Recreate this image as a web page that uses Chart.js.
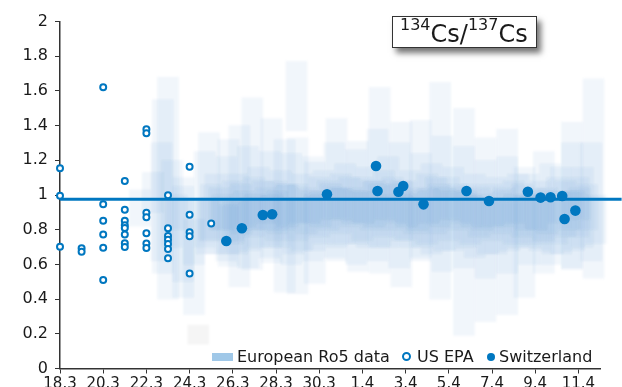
<!DOCTYPE html>
<html><head><meta charset="utf-8">
<script src="https://cdn.jsdelivr.net/npm/chart.js@4.4.0/dist/chart.umd.min.js"></script>
<style>
html,body{margin:0;padding:0;background:#fff;width:622px;height:387px;overflow:hidden;font-family:"DejaVu Sans",Verdana,sans-serif;color:#1a1a1a;}
#wrap{position:relative;width:622px;height:387px;}
canvas{position:absolute;left:0;top:0;}
#title{position:absolute;left:392px;top:16px;width:145px;height:32px;box-sizing:border-box;border:1px solid #333;background:#fff;box-shadow:4px 5px 6px rgba(0,0,0,0.55);font-size:24px;white-space:nowrap;}
#title .t{position:absolute;left:7px;top:1px;line-height:32px;}
#title .s{font-size:16px;position:relative;top:-12px;}
.lg{position:absolute;font-size:16px;line-height:16px;white-space:nowrap;}
.sw{position:absolute;}
</style>
</head><body>
<div id="wrap">
<canvas id="c" width="622" height="387"></canvas>
<div id="title"><span class="t"><span class="s">134</span>Cs/<span class="s">137</span>Cs</span></div>
<div class="sw" style="left:212px;top:353px;width:21px;height:8px;background:#a0c8e8;"></div>
<div class="lg" style="left:237px;top:349px;">European Ro5 data</div>
<div class="sw" style="left:402px;top:352px;width:9px;height:9px;box-sizing:border-box;border:2px solid #0077c0;border-radius:50%;background:#fff;"></div>
<div class="lg" style="left:417px;top:349px;">US EPA</div>
<div class="sw" style="left:487px;top:353px;width:8px;height:8px;border-radius:50%;background:#0077c0;"></div>
<div class="lg" style="left:499px;top:349px;">Switzerland</div>
</div>
<script>
// x = days since 18.3 (18 March)
const xTickValues = [0,2,4,6,8,10,12,14,16,18,20,22,24];
const xTickLabels = ["18.3","20.3","22.3","24.3","26.3","28.3","30.3","1.4","3.4","5.4","7.4","9.4","11.4"];

const refLineX = [0, 26];
const refLineY = [0.975, 0.975];

// US EPA
const epaX = [0,0,0, 1,1, 2,2,2,2,2,2, 3,3,3,3,3,3,3,3, 4,4,4,4,4,4,4, 5,5,5,5,5,5,5, 6,6,6,6,6, 7];
const epaY = [1.154,0.996,0.702, 0.693,0.673, 1.621,0.946,0.852,0.773,0.696,0.510,
  1.080,0.915,0.852,0.825,0.810,0.773,0.722,0.700,
  1.379,1.356,0.898,0.872,0.779,0.720,0.695,
  0.998,0.808,0.764,0.742,0.718,0.689,0.635,
  1.163,0.886,0.785,0.762,0.547, 0.836];

// Switzerland
const swX = [7.70,8.42,9.39,9.82,12.36,14.63,14.70,15.67,15.89,16.83,18.82,19.86,21.66,22.25,22.71,23.25,23.36,23.86];
const swY = [0.735,0.808,0.885,0.889,1.004,1.167,1.023,1.019,1.052,0.946,1.023,0.965,1.019,0.985,0.987,0.994,0.862,0.910];

// European Ro5 data: ranges per laboratory layer
const aX  = [4.76,5.0,5.7,6.2,6.9,7.8,8.3,8.9,9.8,10.4,10.95,11.0,11.8,12.8,13.8,14.8,15.8,16.7,17.6,18.7,19.7,20.7,21.5,22.4,23.7,24.7];
const aLo = [0.55,0.40,0.41,0.31,0.74,0.59,0.47,0.57,0.61,0.44,1.37,0.43,0.49,0.62,0.56,0.55,0.47,0.62,0.40,0.19,0.27,0.31,0.41,0.55,0.57,0.52];
const aHi = [1.55,1.68,1.10,0.86,1.36,1.32,1.40,1.56,1.44,1.32,1.77,1.33,1.19,1.44,1.31,1.62,1.42,1.43,1.65,1.50,1.33,1.38,1.16,1.25,1.42,1.67];

const bX  = [3.7,4.7,5.7,6.7,7.7,8.7,9.7,10.7,11.7,12.7,13.7,14.7,15.7,16.7,17.7,18.7,19.7,20.7,21.7,22.7,23.7,24.6];
const bLo = [0.82,0.62,0.50,0.70,0.62,0.58,0.64,0.60,0.62,0.64,0.60,0.62,0.58,0.64,0.56,0.58,0.52,0.55,0.60,0.60,0.58,0.62];
const bHi = [1.03,1.30,1.05,1.25,1.22,1.28,1.25,1.24,1.22,1.30,1.26,1.38,1.30,1.24,1.34,1.28,1.20,1.22,1.12,1.18,1.30,1.30];

const cX  = [4.3,5.2,6.2,7.2,8.2,9.2,10.2,11.2,12.2,13.2,14.2,15.2,16.2,17.2,18.2,19.2,20.2,21.2,22.2,23.2,24.2];
const cLo = [0.90,0.70,0.60,0.66,0.66,0.70,0.70,0.68,0.72,0.72,0.70,0.70,0.70,0.66,0.68,0.64,0.66,0.70,0.68,0.66,0.70];
const cHi = [1.13,1.20,0.98,1.12,1.12,1.16,1.14,1.12,1.14,1.18,1.16,1.22,1.14,1.18,1.16,1.12,1.10,1.12,1.08,1.16,1.16];

const dX  = [7,8,9,10,11,12,13,14,15,16,17,18,19,20,21,22,23,24];
const dLo = [0.74,0.72,0.76,0.74,0.74,0.76,0.78,0.74,0.76,0.74,0.72,0.74,0.72,0.74,0.72,0.72,0.72,0.76];
const dHi = [1.06,1.08,1.10,1.08,1.06,1.10,1.12,1.10,1.14,1.08,1.12,1.10,1.06,1.06,1.08,1.04,1.10,1.10];

const eX  = [5.4,7.4,8.4,9.4,10.4,11.4,12.4,13.4,14.4,15.4,16.4,17.4,18.4,19.4,20.4,21.4,22.4,23.4,24.4];
const eLo = [0.80,0.80,0.78,0.80,0.80,0.78,0.80,0.82,0.80,0.80,0.78,0.78,0.80,0.76,0.78,0.76,0.74,0.76,0.80];
const eHi = [1.00,1.04,1.06,1.08,1.06,1.04,1.08,1.10,1.08,1.10,1.04,1.10,1.06,1.04,1.02,1.06,1.02,1.08,1.06];

const fX  = [7.55,8.55,9.55,10.55,11.55,12.55,13.55,14.55,15.55,16.55,17.55,18.55,19.55,20.55,21.55,22.55,23.55];
const fLo = [0.80,0.82,0.84,0.82,0.84,0.86,0.84,0.82,0.84,0.80,0.82,0.84,0.80,0.82,0.80,0.78,0.80];
const fHi = [1.00,1.02,1.04,1.06,1.02,1.06,1.04,1.08,1.06,1.02,1.06,1.04,1.00,1.04,1.00,1.04,1.02];

const gX  = [8.05,9.05,10.05,11.05,12.05,13.05,14.05,15.05,16.05,17.05,18.05,19.05,20.05,21.05,22.05,23.05,24.05];
const gLo = [0.74,0.80,0.78,0.84,0.82,0.86,0.84,0.86,0.82,0.84,0.86,0.82,0.82,0.84,0.80,0.84,0.86];
const gHi = [0.96,1.00,1.02,0.98,1.02,1.04,1.02,1.00,1.00,1.04,1.02,1.00,0.98,1.00,1.00,1.02,1.04];

const hX  = [6.8,7.8,8.8,9.8,10.8,11.8,12.8,13.8,14.8,15.8,16.8,17.8,18.8,19.8,20.8,21.8,22.8,23.8,24.8];
const hLo = [0.66,0.66,0.68,0.70,0.66,0.68,0.70,0.72,0.70,0.74,0.70,0.68,0.70,0.66,0.68,0.70,0.66,0.68,0.72];
const hHi = [0.98,0.94,0.98,1.00,0.98,1.00,1.04,1.02,1.06,1.08,0.98,1.04,1.02,0.98,0.96,1.00,0.98,1.02,1.00];

const greyX = [6.4], greyLo = [0.14], greyHi = [0.25];

const BLUE = '#0077c0';
const layers = [[aX,aLo,aHi],[bX,bLo,bHi],[cX,cLo,cHi],[dX,dLo,dHi],[eX,eLo,eHi],[fX,fLo,fHi],[gX,gLo,gHi],[hX,hLo,hHi]];
const zip = (xs, ys) => xs.map((x,i)=>({x:x, y:ys[i]}));
const rng = (xs, lo, hi) => xs.map((x,i)=>({x:x, y:[lo[i], hi[i]]}));

const datasets = [
  {type:'scatter', label:'Switzerland', data:zip(swX, swY), pointRadius:5.3, pointBackgroundColor:BLUE, pointBorderWidth:0, order:0},
  {type:'scatter', label:'US EPA', data:zip(epaX, epaY), pointRadius:3, pointBackgroundColor:'#fff', pointBorderColor:BLUE, pointBorderWidth:2, order:1, clip:false},
  {type:'line', label:'ref', data:zip(refLineX, refLineY), borderColor:BLUE, borderWidth:3, pointRadius:0, order:2, clip:false}
];
layers.forEach((L, k) => datasets.push({
  type:'bar', label:'European Ro5 data', data:rng(L[0],L[1],L[2]),
  backgroundColor:'rgba(60,125,200,0.07)', borderWidth:0, barThickness:21, grouped:false, order:3+k, clip:false
}));
datasets.push({type:'bar', label:'grey', data:rng(greyX,greyLo,greyHi), backgroundColor:'rgba(0,0,0,0.04)', borderWidth:0, barThickness:21, grouped:false, order:20});

// soften the band edges slightly, as in the original
const softBands = {
  id:'softBands',
  beforeDatasetDraw(chart, args){ if (args.meta.type === 'bar'){ chart.ctx.save(); chart.ctx.filter = 'blur(1px)'; } },
  afterDatasetDraw(chart, args){ if (args.meta.type === 'bar'){ chart.ctx.restore(); } }
};

new Chart(document.getElementById('c'), {
  type:'scatter',
  data:{datasets:datasets},
  plugins:[softBands],
  options:{
    responsive:false, animation:false, devicePixelRatio:1,
    layout:{padding:{left:0, right:22, top:21.5, bottom:0}},
    plugins:{legend:{display:false}, tooltip:{enabled:false}},
    scales:{
      x:{type:'linear', min:0, max:25, offset:false,
        afterBuildTicks:(s)=>{ s.ticks = xTickValues.map(v=>({value:v})); },
        afterFit:(s)=>{ s.height = 18.5; },
        ticks:{autoSkip:false, maxRotation:0, minRotation:0, padding:2, color:'#1a1a1a', font:{family:'DejaVu Sans', size:15},
          callback:(v,i)=>xTickLabels[i]},
        grid:{display:true, drawOnChartArea:false, drawTicks:true, tickLength:5, color:'#333', offset:false},
        border:{display:true, color:'#333', width:1.5}},
      y:{min:0, max:2,
        afterFit:(s)=>{ s.width = 60; },
        ticks:{stepSize:0.2, padding:7, color:'#1a1a1a', font:{family:'DejaVu Sans', size:16},
          callback:(v)=>String(Math.round(v*10)/10)},
        grid:{display:true, drawOnChartArea:false, drawTicks:true, tickLength:5, color:'#333'},
        border:{display:true, color:'#333', width:1.5}}
    }
  }
});
</script>
</body></html>
